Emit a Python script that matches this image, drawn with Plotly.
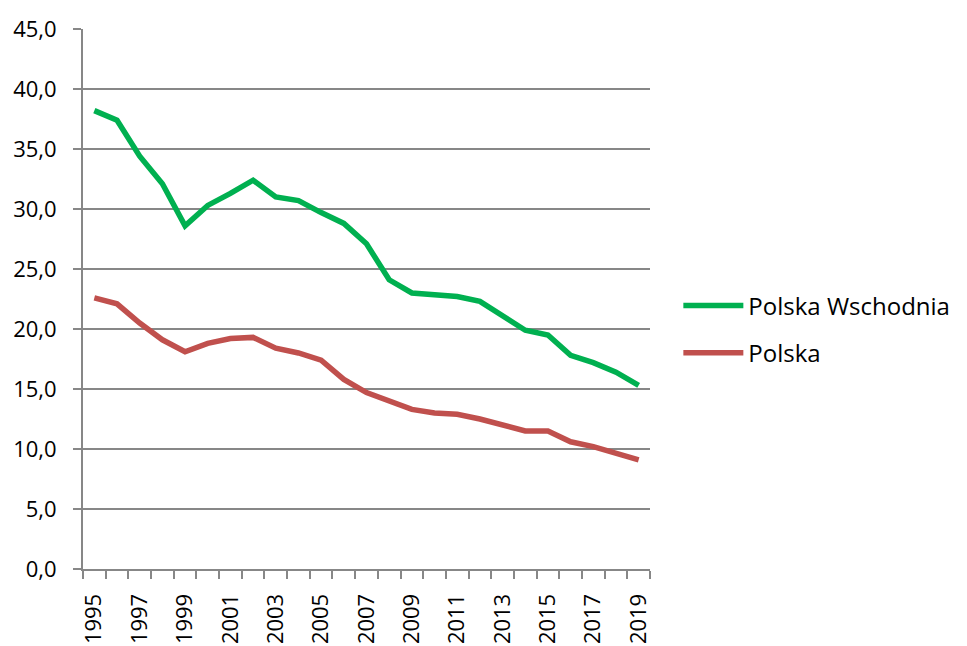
import plotly.graph_objects as go

years = list(range(1995, 2020))
polska_wschodnia = [38.2, 37.4, 34.4, 32.1, 28.6, 30.3, 31.3, 32.4, 31.0, 30.7,
                    29.7, 28.8, 27.1, 24.1, 23.0, 22.8, 22.7, 22.3, 21.1, 19.9,
                    19.5, 17.8, 17.2, 16.4, 15.3]
polska = [22.6, 22.1, 20.5, 19.1, 18.1, 18.8, 19.2, 19.3, 18.4, 18.0,
          17.4, 15.8, 14.7, 14.0, 13.3, 13.0, 12.9, 12.5, 12.0, 11.5,
          11.5, 10.6, 10.2, 9.6, 9.1]
series_names = ["Polska Wschodnia", "Polska"]
colors = ["#00B050", "#C0504D"]
xtick_years = list(range(1995, 2020, 2))
ytick_vals = [0, 5, 10, 15, 20, 25, 30, 35, 40, 45]

font_family = "Open Sans"
grid_color = "#878787"

fig = go.Figure()
for name, vals, col, grp in zip(series_names, [polska_wschodnia, polska], colors, ["a", "b"]):
    fig.add_trace(go.Scatter(
        x=years, y=vals, mode="lines", name=name, legendgroup=grp,
        line=dict(color=col, width=5.5),
    ))

fig.update_layout(
    width=967, height=646,
    margin=dict(l=75, r=325, t=21, b=85, autoexpand=False),
    plot_bgcolor="white", paper_bgcolor="white",
    separators=", ",
    font=dict(family=font_family, size=22, color="#000000"),
    showlegend=True,
    legend=dict(
        x=1.05, xanchor="left", y=0.4435, yanchor="middle",
        font=dict(family=font_family, size=24, color="#000000"),
        tracegroupgap=13, itemwidth=60, bgcolor="rgba(0,0,0,0)",
    ),
)

fig.update_xaxes(
    range=[1994.5, 2019.5], automargin=False,
    tickmode="array", tickvals=xtick_years, ticktext=[str(y) for y in xtick_years],
    tickangle=-90, ticks="", ticklabelstandoff=14,
    showgrid=False, zeroline=False,
    showline=True, linecolor=grid_color, linewidth=2,
    minor=dict(tickmode="array", tickvals=[y - 0.5 for y in years] + [2019.5],
               ticks="outside", ticklen=8, tickwidth=2, tickcolor=grid_color,
               showgrid=False),
    tickfont=dict(family=font_family, size=22, color="#000000"),
)

fig.update_yaxes(
    range=[0, 45], automargin=False,
    tickmode="array", tickvals=ytick_vals, tickformat=".1f",
    ticks="outside", ticklen=8, tickwidth=2, tickcolor=grid_color,
    ticklabelstandoff=12,
    showgrid=True, gridcolor=grid_color, gridwidth=2,
    zeroline=False,
    showline=True, linecolor=grid_color, linewidth=2,
    tickfont=dict(family=font_family, size=22, color="#000000"),
)

fig.write_html("out.html")
